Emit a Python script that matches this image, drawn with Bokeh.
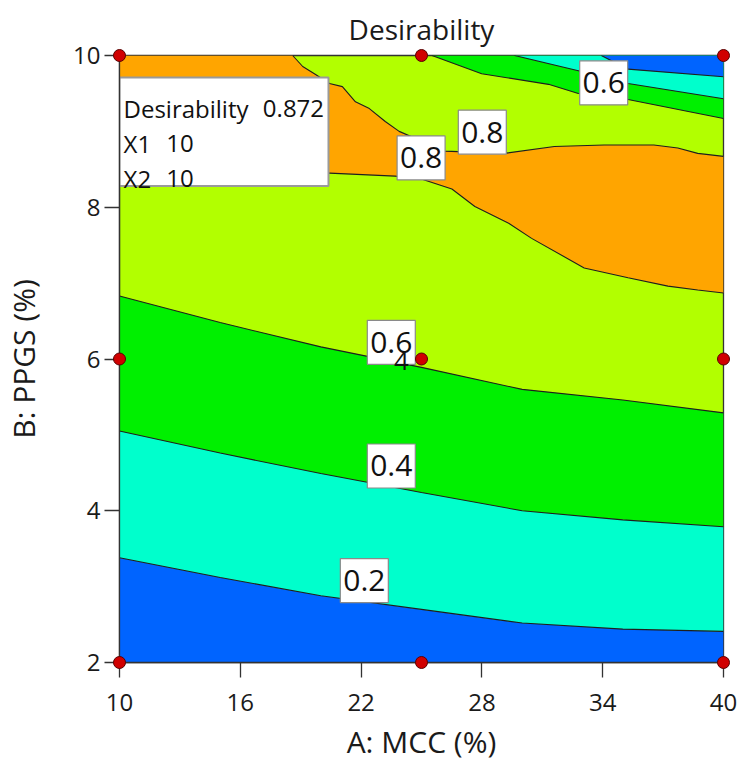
from bokeh.plotting import figure
from bokeh.models import Range1d, FixedTicker
from bokeh.core.properties import value
from bokeh.embed import file_html
from bokeh.resources import INLINE

# ---------------- data ----------------
# design points (A: MCC, B: PPGS)
pts_x = [10, 25, 40, 10, 25, 40, 10, 25, 40]
pts_y = [2, 2, 2, 6, 6, 6, 10, 10, 10]

# lower contour lines on a common A grid
low_x = [10, 15, 20, 25, 30, 35, 40]
c02_low = [3.38, 3.12, 2.88, 2.70, 2.52, 2.44, 2.41]
c04_low = [5.05, 4.76, 4.49, 4.24, 4.00, 3.88, 3.79]
c06_low = [6.83, 6.48, 6.16, 5.89, 5.60, 5.46, 5.29]

# 0.8 contour, upper branch (from top edge to right edge)
c08_up_x = [18.60, 19.10, 19.74, 20.43, 21.07, 21.72, 22.41, 23.20, 23.89, 24.68,
            26.16, 29.13, 31.60, 34.07, 36.54, 37.73, 38.72, 40.00]
c08_up_y = [10.00, 9.855, 9.75, 9.63, 9.59, 9.39, 9.30, 9.13, 9.00, 8.91,
            8.74, 8.71, 8.80, 8.82, 8.82, 8.78, 8.71, 8.67]
# 0.8 contour, lower branch (left edge to right edge)
c08_low_x = [10.00, 15.14, 20.43, 23.69, 25.03, 26.51, 27.65, 29.33, 30.47,
             33.08, 35.26, 37.24, 38.72, 40.00]
c08_low_y = [8.50, 8.47, 8.45, 8.41, 8.37, 8.24, 8.01, 7.79, 7.59,
             7.20, 7.07, 6.96, 6.91, 6.87]

# upper-right contour lines (top edge to right edge)
c06_top_x = [25.52, 27.99, 31.31, 32.79, 35.26, 40.00]
c06_top_y = [10.00, 9.76, 9.62, 9.50, 9.42, 9.17]
c04_top_x = [29.62, 32.79, 35.26, 40.00]
c04_top_y = [10.00, 9.80, 9.63, 9.43]
c02_top_x = [33.93, 35.26, 40.00]
c02_top_y = [10.00, 9.82, 9.72]

# contour label positions and texts
lab_x = [22.16, 23.50, 23.50, 24.98, 28.02, 34.05]
lab_y = [3.08, 4.59, 6.22, 8.65, 8.99, 9.64]
lab_t = ["0.2", "0.4", "0.6", "0.8", "0.8", "0.6"]

# optimum annotation
opt_desir = "0.872"
opt_x1 = "10"
opt_x2 = "10"

x_ticks = [10, 16, 22, 28, 34, 40]
y_ticks = [2, 4, 6, 8, 10]
x_lo, x_hi = 10, 40
y_lo, y_hi = 2, 10

# ---------------- styling ----------------
FONT = "Open Sans"
C_BLUE = "#0064FF"
C_CYAN = "#00FFCC"
C_GREEN = "#00F000"
C_YG = "#B2FF00"
C_ORANGE = "#FFA500"
C_LINE = "#1e1e1e"
C_TEXT = "#1a1a1a"

p = figure(width=738, height=762, output_backend="svg", toolbar_location=None,
           x_range=Range1d(x_lo, x_hi), y_range=Range1d(y_lo, y_hi),
           min_border_left=116, min_border_right=15, min_border_top=54,
           min_border_bottom=100, title="Desirability")
p.background_fill_color = C_YG
p.border_fill_color = "white"
p.outline_line_color = "#333333"
p.outline_line_width = 1.3
p.grid.visible = False

p.title.text_font = FONT
p.title.text_font_size = "28px"
p.title.text_font_style = "normal"
p.title.align = "center"
p.title.text_color = C_TEXT
p.title.standoff = 15

# bottom bands
p.varea(x=low_x, y1=[y_lo] * len(low_x), y2=c02_low, fill_color=C_BLUE)
p.varea(x=low_x, y1=c02_low, y2=c04_low, fill_color=C_CYAN)
p.varea(x=low_x, y1=c04_low, y2=c06_low, fill_color=C_GREEN)

# orange region (> 0.8)
ox = [x_lo] + c08_up_x + c08_low_x[::-1]
oy = [y_hi] + c08_up_y + c08_low_y[::-1]
p.patch(ox, oy, fill_color=C_ORANGE, line_color=None)

# upper-right bands
p.patch(c06_top_x + [x_hi], c06_top_y + [y_hi], fill_color=C_GREEN, line_color=None)
p.patch(c04_top_x + [x_hi], c04_top_y + [y_hi], fill_color=C_CYAN, line_color=None)
p.patch(c02_top_x + [x_hi], c02_top_y + [y_hi], fill_color=C_BLUE, line_color=None)

# contour lines
for xs, ys in [(low_x, c02_low), (low_x, c04_low), (low_x, c06_low),
               (c08_up_x, c08_up_y), (c08_low_x, c08_low_y),
               (c06_top_x, c06_top_y), (c04_top_x, c04_top_y), (c02_top_x, c02_top_y)]:
    p.line(xs, ys, line_color=C_LINE, line_width=1.1)

# contour labels
p.rect(x=lab_x, y=lab_y, width=48, height=44, width_units="screen", height_units="screen",
       fill_color="white", line_color="#8a8a8a", line_width=1.2)
p.text(x=lab_x, y=lab_y, text=lab_t, text_font=value(FONT), text_font_size="30px",
       text_align="center", text_baseline="middle", text_color="#111111")

# optimum annotation box
p.quad(left=[10], right=[20.38], top=[9.71], bottom=[8.28], fill_color="white",
       line_color="#9a9a9a", line_width=2)
p.text(x=[10.2, 17.12, 10.2, 12.32, 10.2, 12.32], y=[9.303, 9.303, 8.842, 8.842, 8.382, 8.382],
       text=["Desirability", opt_desir, "X1", opt_x1, "X2", opt_x2], text_font=value(FONT),
       text_font_size="24px", text_align="left", text_baseline="alphabetic", text_color="#111111")

# design points (overlay level so the border points are drawn in full)
p.scatter(pts_x, pts_y, size=12, fill_color="#D00000", line_color="#5a0000", line_width=1,
          level="overlay")
p.text(x=[25], y=[6], text=["4"], x_offset=-20, y_offset=2, text_font=value(FONT),
       text_font_size="26px", text_align="center", text_baseline="middle", text_color="#111111")

# axes
for ax in (p.xaxis[0], p.yaxis[0]):
    ax.major_tick_in = 0
    ax.major_tick_out = 15
    ax.minor_tick_line_color = None
    ax.axis_line_color = "#333333"
    ax.axis_line_width = 1.3
    ax.major_tick_line_color = "#333333"
    ax.major_tick_line_width = 1.3
    ax.major_label_text_font = FONT
    ax.major_label_text_font_size = "24px"
    ax.major_label_text_color = C_TEXT
    ax.axis_label_text_font = FONT
    ax.axis_label_text_font_size = "30px"
    ax.axis_label_text_font_style = "normal"
    ax.axis_label_text_color = C_TEXT
p.xaxis[0].ticker = FixedTicker(ticks=x_ticks)
p.yaxis[0].ticker = FixedTicker(ticks=y_ticks)
p.yaxis[0].axis_label = "B: PPGS (%)"
p.xaxis[0].major_label_standoff = 16
p.yaxis[0].major_label_standoff = 4
p.yaxis[0].axis_label_standoff = 26

# x-axis title, drawn just under the tick labels (overlay level: not clipped)
p.text(x=[(x_lo + x_hi) / 2], y=[y_lo - 79 / 76.0], text=["A: MCC (%)"], text_font=value(FONT),
       text_font_size="30px", text_color=C_TEXT, text_align="center", text_baseline="middle",
       level="overlay")

open("out.html", "w").write(file_html(p, INLINE))
